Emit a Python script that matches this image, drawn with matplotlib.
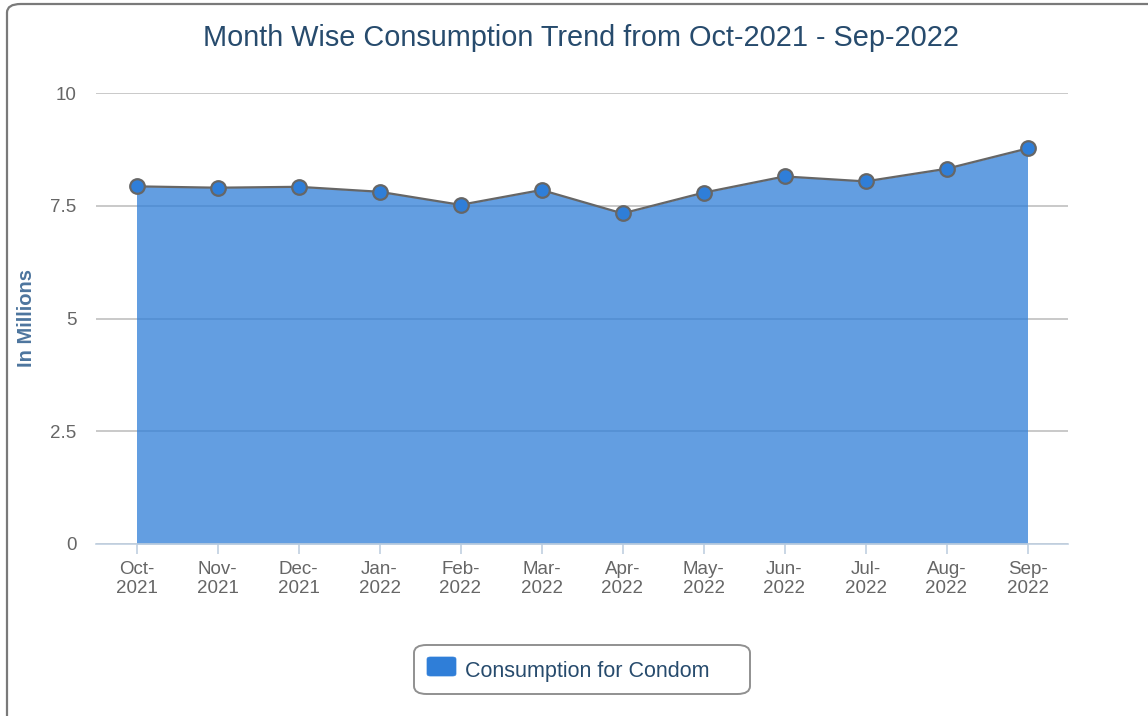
import numpy as np
import matplotlib.pyplot as plt
from matplotlib.patches import FancyBboxPatch

months = ['Oct-\n2021', 'Nov-\n2021', 'Dec-\n2021', 'Jan-\n2022', 'Feb-\n2022', 'Mar-\n2022',
          'Apr-\n2022', 'May-\n2022', 'Jun-\n2022', 'Jul-\n2022', 'Aug-\n2022', 'Sep-\n2022']
consumption = [7.93, 7.90, 7.92, 7.81, 7.52, 7.85, 7.33, 7.79, 8.15, 8.04, 8.32, 8.77]
y_ticks = [0, 2.5, 5, 7.5, 10]
y_tick_labels = ['0', '2.5', '5', '7.5', '10']
series_name = 'Consumption for Condom'

plt.rcParams['font.family'] = ['Liberation Sans', 'DejaVu Sans']

W, H = 1148, 716
fig = plt.figure(figsize=(W / 100, H / 100), dpi=100)


def px(x, y):
    # pixel position (from top-left) -> figure fraction
    return x / W, 1 - y / H


# outer rounded frame (right and bottom run off the picture)
frame = FancyBboxPatch((7 / W, -0.05), 1.2, 1 - 4 / H + 0.05,
                       boxstyle='round,pad=0,rounding_size=0.012',
                       transform=fig.transFigure, fill=False,
                       edgecolor='#7a7a7a', linewidth=1.6)
fig.patches.append(frame)

ax = fig.add_axes([96 / W, 1 - 544 / H, 972 / W, (544 - 93) / H])
x = np.arange(len(months))

ax.set_xlim(-0.5, len(months) - 0.5)
ax.set_ylim(0, 10)
ax.set_yticks(y_ticks)
ax.set_yticklabels(y_tick_labels)
ax.set_xticks(x)
ax.set_xticklabels(months, linespacing=1.15)

ax.grid(axis='y', color='#c0c0c0', linewidth=1.2)
ax.set_axisbelow(True)
for s in ['left', 'right', 'top']:
    ax.spines[s].set_visible(False)
ax.spines['bottom'].set_color('#c0d0e0')
ax.spines['bottom'].set_linewidth(1.2)

ax.tick_params(axis='y', length=0, pad=14, labelsize=13.5, labelcolor='#666666')
ax.tick_params(axis='x', length=7, width=1.2, color='#c0d0e0', pad=5,
               labelsize=13.5, labelcolor='#666666')

ax.fill_between(x, consumption, 0, color='#2f7ed8', alpha=0.75, linewidth=0, zorder=2)
ax.plot(x, consumption, color='#666666', linewidth=1.6, zorder=3)
ax.plot(x, consumption, 'o', markersize=10.5, markerfacecolor='#2f7ed8',
        markeredgecolor='#666666', markeredgewidth=1.6, zorder=4, clip_on=False)

fig.text(*px(27, 318), 'In Millions', rotation=90, ha='center', va='center',
         color='#4d759e', fontsize=14.5, fontweight='bold')

fig.text(*px(581, 38), 'Month Wise Consumption Trend from Oct-2021 - Sep-2022',
         ha='center', va='center', fontsize=20.8, color='#274b6d')

# legend drawn by hand so the box matches the original padding
lx0, ly0 = px(414, 694)
lx1, ly1 = px(750, 645)
fig.patches.append(FancyBboxPatch((lx0, ly0), lx1 - lx0, ly1 - ly0,
                                  boxstyle='round,pad=0,rounding_size=0.011',
                                  transform=fig.transFigure, facecolor='white',
                                  edgecolor='#909090', linewidth=1.4))
sx0, sy0 = px(427, 676)
sx1, sy1 = px(456, 657)
fig.patches.append(FancyBboxPatch((sx0, sy0), sx1 - sx0, sy1 - sy0,
                                  boxstyle='round,pad=0,rounding_size=0.003',
                                  transform=fig.transFigure, facecolor='#2f7ed8',
                                  edgecolor='#2f7ed8', linewidth=0.5))
fig.text(*px(465, 671), series_name, ha='left', va='center',
         fontsize=15.5, color='#274b6d')

fig.savefig('out.png', dpi=100)
